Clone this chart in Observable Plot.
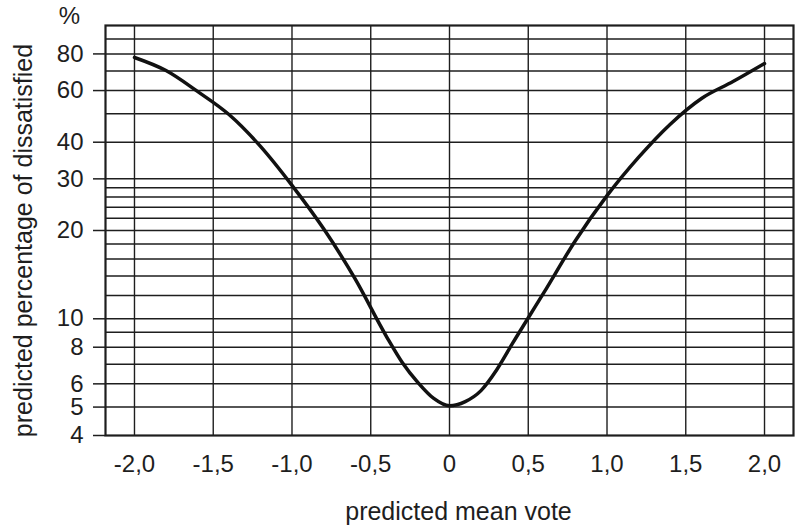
<!DOCTYPE html>
<html><head><meta charset="utf-8">
<script src="https://cdn.jsdelivr.net/npm/d3@7"></script>
<script src="https://cdn.jsdelivr.net/npm/@observablehq/plot@0.6"></script>
<style>body{margin:0;background:#fff}</style>
</head><body><div id="chart"></div>
<script>
// Curve: predicted mean vote -> predicted percentage dissatisfied
const pmv = [-2.0, -1.8, -1.6, -1.4, -1.2, -1.0, -0.8, -0.6, -0.4, -0.3, -0.2, -0.1, 0, 0.1, 0.2, 0.3, 0.4, 0.6, 0.8, 1.0, 1.2, 1.4, 1.6, 1.8, 2.0];
const ppd = [77.8, 70.2, 59.6, 49.7, 38.7, 28.5, 20.3, 13.7, 8.7, 7.1, 6.06, 5.35, 5.05, 5.22, 5.69, 6.7, 8.24, 12.3, 18.5, 26.3, 35.5, 46, 56.4, 64.4, 74.2];
const xTicks = [-2, -1.5, -1, -0.5, 0, 0.5, 1, 1.5, 2];
const yTicks = [4, 5, 6, 8, 10, 20, 30, 40, 60, 80];
const yGrid = [5, 6, 7, 8, 9, 10, 12, 14, 16, 18, 20, 22, 24, 26, 28, 30, 40, 50, 60, 70, 80, 90];
const xDomain = [-2.184, 2.184];
const yDomain = [4, 100];
const yTitle = "predicted percentage of dissatisfied";
const xTitle = "predicted mean vote";
const unit = "%";

const data = pmv.map((x, i) => ({x, y: ppd[i]}));
const ink = "#1e1e1e";

const chart = Plot.plot({
  width: 800,
  height: 526,
  marginLeft: 105,
  marginRight: 7,
  marginTop: 25,
  marginBottom: 91,
  style: {fontFamily: "'Liberation Sans', Arial, sans-serif", fontSize: "24px", color: ink, background: "#fff"},
  x: {domain: xDomain},
  y: {type: "log", domain: yDomain},
  marks: [
    Plot.ruleY(yGrid, {stroke: ink, strokeWidth: 1.5}),
    Plot.ruleX(xTicks, {stroke: ink, strokeWidth: 1.4}),
    Plot.frame({stroke: ink, strokeWidth: 2.2}),
    Plot.axisY(yTicks, {ticks: 200, tickSpacing: 2, tickSize: 12, tickPadding: 10, tickFormat: d => String(d), label: null, stroke: ink, strokeWidth: 1.5, fontSize: 24}),
    Plot.axisX(xTicks, {tickSize: 0, tickPadding: 19, tickFormat: d => d === 0 ? "0" : d.toFixed(1).replace(".", ","), label: null, fontSize: 24}),
    Plot.line(data, {x: "x", y: "y", curve: "monotone-x", stroke: "#111", strokeWidth: 3.5}),
    Plot.text([unit], {frameAnchor: "top-left", textAnchor: "middle", lineAnchor: "middle", dx: -36, dy: -9, fontSize: 24}),
    Plot.text([xTitle], {frameAnchor: "bottom", textAnchor: "middle", lineAnchor: "middle", dx: 9, dy: 76, fontSize: 25}),
    Plot.text([yTitle], {frameAnchor: "left", textAnchor: "middle", lineAnchor: "middle", rotate: -90, dx: -82, dy: 10, fontSize: 25})
  ]
});
document.getElementById("chart").appendChild(chart);
</script>
</body></html>
